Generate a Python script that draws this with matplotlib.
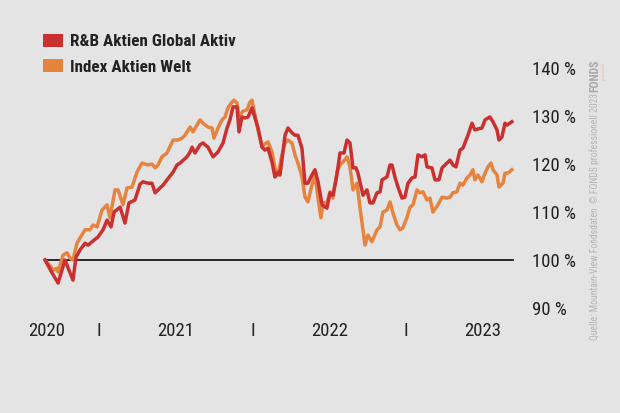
import matplotlib
matplotlib.use("Agg")
import matplotlib.pyplot as plt
from matplotlib import font_manager as fm
from matplotlib.patches import Patch

# Werte (in %, Start = 100), x in Dezimaljahren
rb_jahr = [2020.147, 2020.193, 2020.232, 2020.277, 2020.329, 2020.349, 2020.375, 2020.408, 2020.427, 2020.453,
           2020.492, 2020.525, 2020.551, 2020.577, 2020.597, 2020.636, 2020.668, 2020.694, 2020.733, 2020.766,
           2020.785, 2020.818, 2020.844, 2020.864, 2020.883, 2020.916, 2020.942, 2020.981, 2021.007, 2021.027,
           2021.072, 2021.092, 2021.105, 2021.124, 2021.157, 2021.176, 2021.209, 2021.242, 2021.274, 2021.307,
           2021.333, 2021.352, 2021.372, 2021.398, 2021.411, 2021.430, 2021.450, 2021.470, 2021.496, 2021.515,
           2021.535, 2021.561, 2021.580, 2021.600, 2021.626, 2021.645, 2021.665, 2021.678, 2021.711, 2021.730,
           2021.756, 2021.776, 2021.795, 2021.821, 2021.841, 2021.860, 2021.886, 2021.906, 2021.926, 2021.952,
           2021.984, 2022.004, 2022.023, 2022.049, 2022.069, 2022.095, 2022.115, 2022.134, 2022.154, 2022.173,
           2022.186, 2022.219, 2022.245, 2022.264, 2022.284, 2022.310, 2022.330, 2022.343, 2022.375, 2022.395,
           2022.408, 2022.427, 2022.447, 2022.473, 2022.492, 2022.512, 2022.538, 2022.558, 2022.577, 2022.603,
           2022.623, 2022.636, 2022.668, 2022.688, 2022.714, 2022.734, 2022.766, 2022.786, 2022.805, 2022.825,
           2022.851, 2022.870, 2022.903, 2022.929, 2022.948, 2022.968, 2022.994, 2023.014, 2023.046, 2023.066,
           2023.092, 2023.105, 2023.124, 2023.144, 2023.157, 2023.189]
rb_wert = [100.0, 97.3, 95.2, 100.0, 95.8, 100.6, 102.1, 103.5, 103.1, 103.8,
           104.8, 106.3, 108.3, 106.9, 110.0, 111.0, 107.7, 111.9, 112.5, 115.8,
           116.3, 116.0, 116.0, 114.0, 114.6, 115.6, 116.7, 118.3, 119.8, 120.2,
           121.5, 122.5, 123.5, 122.3, 124.0, 124.4, 123.5, 121.5, 122.5, 124.4,
           127.5, 129.2, 131.9, 131.9, 126.7, 129.8, 129.6, 129.8, 131.7, 129.6,
           127.5, 123.5, 122.9, 123.3, 120.4, 117.3, 118.3, 117.7, 126.0, 127.5,
           126.5, 126.0, 126.0, 123.3, 116.0, 116.0, 117.7, 118.8, 116.3, 111.5,
           110.8, 114.0, 113.5, 117.7, 122.3, 122.3, 125.0, 124.4, 119.2, 119.2,
           118.1, 113.5, 114.6, 111.9, 111.9, 114.0, 114.2, 116.7, 117.3, 119.8,
           119.8, 117.3, 115.2, 112.9, 113.1, 116.0, 117.1, 117.3, 121.9, 121.5,
           121.9, 119.4, 119.2, 116.7, 116.7, 119.2, 120.2, 120.8, 119.8, 119.4,
           122.9, 123.3, 126.0, 128.5, 127.1, 127.3, 127.5, 129.2, 129.8, 128.8,
           127.1, 125.0, 125.6, 128.5, 128.1, 128.8]

idx_jahr = [2020.147, 2020.180, 2020.199, 2020.225, 2020.232, 2020.264, 2020.290, 2020.310, 2020.329, 2020.355,
            2020.375, 2020.408, 2020.440, 2020.460, 2020.486, 2020.518, 2020.551, 2020.570, 2020.603, 2020.623,
            2020.655, 2020.681, 2020.714, 2020.746, 2020.779, 2020.818, 2020.844, 2020.864, 2020.883, 2020.909,
            2020.942, 2020.981, 2021.014, 2021.040, 2021.059, 2021.092, 2021.111, 2021.137, 2021.157, 2021.176,
            2021.209, 2021.235, 2021.248, 2021.274, 2021.300, 2021.320, 2021.339, 2021.365, 2021.378, 2021.398,
            2021.411, 2021.437, 2021.463, 2021.483, 2021.496, 2021.515, 2021.535, 2021.561, 2021.580, 2021.600,
            2021.626, 2021.645, 2021.665, 2021.691, 2021.711, 2021.730, 2021.756, 2021.776, 2021.795, 2021.821,
            2021.841, 2021.860, 2021.886, 2021.906, 2021.926, 2021.945, 2021.958, 2021.984, 2022.004, 2022.023,
            2022.049, 2022.069, 2022.088, 2022.115, 2022.134, 2022.154, 2022.180, 2022.199, 2022.219, 2022.232,
            2022.251, 2022.277, 2022.310, 2022.330, 2022.349, 2022.375, 2022.395, 2022.414, 2022.440, 2022.460,
            2022.479, 2022.505, 2022.525, 2022.545, 2022.571, 2022.590, 2022.610, 2022.636, 2022.655, 2022.675,
            2022.707, 2022.734, 2022.766, 2022.786, 2022.805, 2022.831, 2022.851, 2022.870, 2022.896, 2022.916,
            2022.935, 2022.948, 2022.968, 2022.994, 2023.014, 2023.033, 2023.053, 2023.066, 2023.092, 2023.105,
            2023.131, 2023.144, 2023.163, 2023.189]
idx_wert = [100.0, 98.8, 97.9, 98.3, 97.5, 101.0, 101.5, 100.4, 100.0, 103.5,
            104.6, 106.3, 106.3, 107.3, 106.9, 110.4, 111.5, 108.8, 114.6, 114.6,
            111.5, 115.0, 115.2, 118.3, 120.2, 119.8, 120.0, 119.2, 119.8, 121.5,
            122.3, 125.0, 125.0, 125.4, 126.0, 127.7, 126.7, 128.1, 129.2, 128.5,
            127.7, 127.5, 125.4, 127.5, 129.2, 129.8, 131.7, 132.9, 133.3, 132.7,
            130.0, 131.0, 131.3, 132.9, 133.3, 130.2, 127.1, 123.5, 124.2, 124.6,
            122.5, 119.2, 117.7, 121.9, 124.4, 125.0, 124.4, 121.9, 120.2, 117.3,
            113.1, 112.1, 115.6, 117.7, 112.9, 108.8, 111.9, 111.9, 114.2, 112.9,
            118.3, 119.8, 120.4, 121.5, 119.4, 114.6, 116.0, 111.0, 106.3, 103.1,
            105.2, 103.8, 106.3, 106.9, 110.0, 110.4, 112.1, 109.8, 107.3, 106.3,
            106.7, 108.8, 111.0, 111.5, 114.6, 114.0, 114.2, 112.5, 112.9, 110.0,
            111.5, 113.1, 112.9, 113.1, 114.0, 114.2, 116.0, 115.6, 117.1, 117.7,
            118.8, 116.7, 117.7, 116.3, 118.1, 119.4, 120.2, 118.8, 117.7, 115.2,
            116.0, 118.1, 118.1, 118.8]

x_ticks = [2020.16, 2020.5, 2021.0, 2021.5, 2022.0, 2022.5, 2023.0]
x_labels = ["2020", "I", "2021", "I", "2022", "I", "2023"]
y_ticks = [90, 100, 110, 120, 130, 140]
y_labels = ["90 %", "100 %", "110 %", "120 %", "130 %", "140 %"]

ROT = "#c9302f"
ORANGE = "#e6843f"
HG = "#e4e4e4"

# schmale Schrift suchen
namen = {f.name for f in fm.fontManager.ttflist}
schrift = "DejaVu Sans"
for kandidat in ["Roboto Condensed", "Fira Sans Condensed", "Fira Sans Extra Condensed", "Sofia Sans Condensed"]:
    if kandidat in namen:
        schrift = kandidat
        break
FAM = [schrift, "DejaVu Sans"]
plt.rcParams["font.family"] = FAM

fig = plt.figure(figsize=(6.2, 4.13), dpi=100, facecolor=HG)
ax = fig.add_axes([30 / 620, 1 - 320 / 413, 490 / 620, 260 / 413])
ax.set_facecolor(HG)

x0, x1 = 2020.049, 2023.242
ax.axhline(100, xmin=(2020.147 - x0) / (x1 - x0), xmax=(2023.195 - x0) / (x1 - x0),
           color="#1a1a1a", lw=1.3, zorder=1)
ax.plot(idx_jahr, idx_wert, color=ORANGE, lw=2.5, solid_joinstyle="round", zorder=2)
ax.plot(rb_jahr, rb_wert, color=ROT, lw=2.5, solid_joinstyle="round", zorder=3)

ax.set_xlim(x0, x1)
ax.set_ylim(87.5, 141.67)
for s in ax.spines.values():
    s.set_visible(False)

ax.set_xticks(x_ticks)
ax.set_xticklabels(x_labels, fontsize=13.5, color="#222222")
ax.yaxis.tick_right()
ax.set_yticks(y_ticks)
ax.set_yticklabels(y_labels, fontsize=13.5, color="#222222", ha="left")
ax.tick_params(axis="both", length=0)
ax.tick_params(axis="x", pad=1.5)
ax.tick_params(axis="y", pad=8.6)

handles = [Patch(facecolor=ROT, edgecolor="none"), Patch(facecolor=ORANGE, edgecolor="none")]
fig.legend(handles, ["R&B Aktien Global Aktiv", "Index Aktien Welt"],
           loc="upper left", bbox_to_anchor=(43 / 620, 1 - 34 / 413), frameon=False,
           prop={"family": FAM, "weight": "bold", "size": 12.3},
           handlelength=1.15, handleheight=0.75, handletextpad=0.45, labelspacing=0.6,
           borderpad=0, borderaxespad=0, labelcolor="#222222")

fig.text(595 / 620, 1 - 340 / 413, "Quelle: Mountain-View Fondsdaten  \u00a9 FONDS professionell 2023",
         rotation=90, ha="center", va="bottom", fontsize=6.9, color="#b3b3b3")
fig.text(595 / 620, 1 - 92 / 413, "FONDS", rotation=90, ha="center", va="bottom",
         fontsize=8.5, fontweight="bold", color="#a8a8a8")
fig.text(603.5 / 620, 1 - 80 / 413, "professionell", rotation=90, ha="center", va="bottom",
         fontsize=2.5, color="#e8b89a")

fig.savefig("out.png", dpi=100, facecolor=HG)
